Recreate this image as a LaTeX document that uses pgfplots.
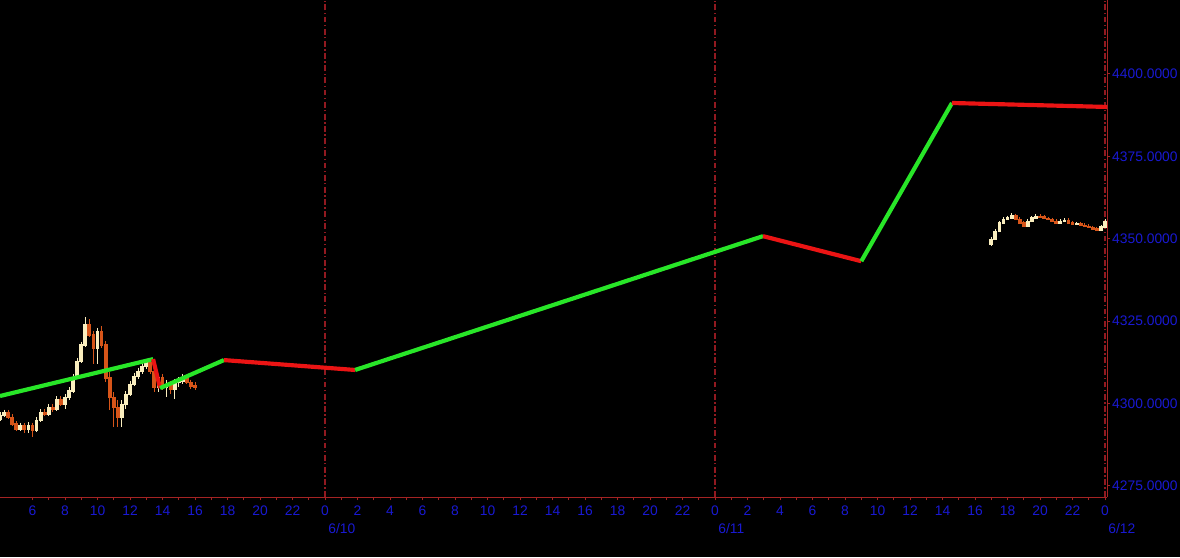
\documentclass[border=0pt]{standalone}
\usepackage{pgfplots}
\pgfplotsset{compat=1.18}
\usepackage{pgfplotstable}
\usepackage{fontspec}
\setmainfont{Liberation Sans}

\definecolor{axred}{RGB}{165,35,35}
\definecolor{gridred}{RGB}{145,25,32}
\definecolor{lblue}{RGB}{25,25,210}
\definecolor{upgreen}{RGB}{40,230,40}
\definecolor{dnred}{RGB}{235,20,20}
\definecolor{candleup}{RGB}{250,238,190}
\definecolor{candledn}{RGB}{215,85,25}

% 15 min candles, x = hours since 6/9 0:00
\pgfplotstableread{
t o h l c
4.00 4295.5 4297.3 4294.8 4296.5
4.25 4296.5 4298.2 4295.9 4297.5
5.25 4292.5 4294.2 4291.6 4293.5
5.75 4292.5 4294.4 4291.0 4293.5
6.25 4292.0 4295.8 4291.3 4295.0
6.50 4295.0 4298.3 4294.4 4297.5
7.00 4297.0 4299.9 4296.2 4299.0
7.50 4298.5 4302.3 4297.9 4301.5
8.00 4300.0 4302.8 4298.5 4302.0
8.25 4302.0 4304.9 4301.2 4304.0
8.50 4304.0 4308.9 4303.3 4308.0
8.75 4308.0 4313.9 4307.4 4313.0
9.00 4313.0 4318.8 4312.2 4318.0
9.25 4318.0 4326.2 4317.3 4324.0
10.00 4317.0 4323.0 4312.0 4322.0
11.50 4296.0 4301.0 4293.0 4300.0
11.75 4300.0 4303.8 4298.5 4303.0
12.00 4303.0 4306.9 4302.2 4306.0
12.25 4306.0 4309.3 4305.2 4308.5
12.50 4308.5 4310.9 4307.4 4310.0
12.75 4310.0 4312.3 4309.1 4311.5
13.00 4311.5 4313.6 4310.6 4312.5
13.75 4305.0 4309.0 4303.5 4308.0
14.25 4305.0 4307.2 4302.0 4306.0
14.75 4304.5 4307.4 4301.5 4306.5
15.00 4306.5 4308.0 4305.0 4307.0
15.25 4307.0 4309.0 4306.0 4308.0
65.00 4348.5 4350.6 4347.8 4350.0
65.25 4350.0 4352.9 4349.6 4352.5
65.50 4352.5 4355.4 4352.0 4355.0
65.75 4355.0 4356.5 4354.6 4356.0
66.00 4356.0 4357.0 4355.6 4356.5
66.25 4356.5 4357.8 4356.1 4357.2
67.25 4354.0 4355.9 4353.6 4355.5
67.50 4355.5 4356.9 4355.1 4356.5
67.75 4356.5 4357.5 4356.1 4357.0
69.25 4355.0 4355.9 4354.6 4355.5
69.50 4355.5 4356.2 4355.1 4355.8
70.25 4354.5 4355.2 4354.1 4354.8
71.75 4352.8 4354.2 4352.4 4353.8
72.00 4353.8 4356.0 4353.4 4355.5
}\upcandles

\pgfplotstableread{
t o h l c
4.50 4297.5 4298.1 4295.3 4296.0
4.75 4296.0 4296.8 4293.2 4294.0
5.00 4294.0 4294.7 4291.8 4292.5
5.50 4293.5 4294.1 4291.0 4292.5
6.00 4293.5 4294.2 4290.0 4292.0
6.75 4297.5 4298.4 4296.2 4297.0
7.25 4299.0 4299.8 4297.6 4298.5
7.75 4301.5 4302.2 4299.2 4300.0
9.50 4324.0 4325.6 4320.2 4321.0
9.75 4321.0 4322.0 4312.0 4317.0
10.25 4322.0 4323.5 4317.0 4318.0
10.50 4318.0 4319.0 4306.5 4308.0
10.75 4308.0 4309.5 4298.0 4302.0
11.00 4302.0 4303.5 4293.0 4299.0
11.25 4299.0 4301.0 4293.0 4296.0
13.25 4312.5 4313.5 4309.0 4310.0
13.50 4310.0 4311.0 4303.5 4305.0
14.00 4308.0 4309.0 4304.0 4305.0
14.50 4306.0 4307.0 4303.0 4304.5
15.50 4308.0 4308.7 4305.8 4306.5
15.75 4306.5 4307.3 4304.5 4305.5
16.00 4305.5 4306.4 4304.2 4305.0
66.50 4357.2 4357.6 4355.6 4356.0
66.75 4356.0 4356.5 4354.6 4355.0
67.00 4355.0 4355.4 4353.5 4354.0
68.00 4357.0 4357.4 4356.4 4356.8
68.25 4356.8 4357.2 4355.9 4356.3
68.50 4356.3 4356.7 4355.6 4356.0
68.75 4356.0 4356.4 4355.1 4355.5
69.00 4355.5 4355.9 4354.6 4355.0
69.75 4355.8 4356.2 4354.6 4355.0
70.00 4355.0 4355.4 4354.1 4354.5
70.50 4354.8 4355.2 4353.9 4354.3
70.75 4354.3 4354.7 4353.6 4354.0
71.00 4354.0 4354.4 4353.2 4353.6
71.25 4353.6 4354.0 4352.8 4353.2
71.50 4353.2 4353.6 4352.4 4352.8
}\dncandles

\begin{document}
\begin{tikzpicture}
\fill[black] (0,-36pt) rectangle (708pt,298.2pt);
\begin{axis}[
  at={(0,0)}, anchor=south west,
  scale only axis, width=664.2pt, height=298.2pt,
  xmin=4, xmax=72.12, ymin=4271.66, ymax=4422.45,
  axis x line*=bottom, axis y line*=right,
  axis line style={draw=axred, line width=0.6pt, -},
  tick align=outside,
  major tick length=2pt, minor tick length=2pt,
  every tick/.style={draw=axred, line width=0.6pt},
  xtick={6,8,...,72},
  xticklabels={6,8,10,12,14,16,18,20,22,0,2,4,6,8,10,12,14,16,18,20,22,0,2,4,6,8,10,12,14,16,18,20,22,0},
  minor x tick num=1,
  ytick={4275,4300,...,4400},
  scaled y ticks=false,
  yticklabel style={xshift=-2.4pt, /pgf/number format/.cd, fixed, fixed zerofill, precision=4, 1000 sep={}},
  /pgf/number format/assume math mode=true,
  tick label style={font=\fontsize{8.3}{10}\selectfont, text=lblue},
  extra x ticks={24,48,72},
  extra x tick labels={6/10,6/11,6/12},
  extra x tick style={grid=major,
    major grid style={draw=gridred, line width=0.7pt, dash pattern=on 3.5pt off 1.5pt on 0.8pt off 1.5pt},
    major tick length=0pt,
    tick label style={anchor=north west, yshift=-12.5pt, xshift=-1.5pt}},
]
% wicks
\addplot[draw=none, mark=none, error bars/.cd, y dir=minus, y explicit, error mark=none,
  error bar style={draw=candleup, line width=0.6pt}]
  table[x=t, y=h, y error minus expr=\thisrow{h}-\thisrow{l}] {\upcandles};
\addplot[draw=none, mark=none, error bars/.cd, y dir=minus, y explicit, error mark=none,
  error bar style={draw=candledn, line width=0.6pt}]
  table[x=t, y=h, y error minus expr=\thisrow{h}-\thisrow{l}] {\dncandles};
% bodies
\addplot[draw=none, mark=none, error bars/.cd, y dir=minus, y explicit, error mark=none,
  error bar style={draw=candleup, line width=2.3pt}]
  table[x=t, y=c, y error minus expr=\thisrow{c}-\thisrow{o}+0.4] {\upcandles};
\addplot[draw=none, mark=none, error bars/.cd, y dir=minus, y explicit, error mark=none,
  error bar style={draw=candledn, line width=2.3pt}]
  table[x=t, y=o, y error minus expr=\thisrow{o}-\thisrow{c}+0.4] {\dncandles};
% trend zigzag
\addplot[upgreen, line width=2.5pt] coordinates {(4,4302.3)(13.42,4313.5)};
\addplot[dnred, line width=2.5pt] coordinates {(13.42,4313.5)(13.85,4304.7)};
\addplot[upgreen, line width=2.5pt] coordinates {(13.85,4304.7)(17.78,4313.2)};
\addplot[dnred, line width=2.5pt] coordinates {(17.78,4313.2)(25.85,4310.2)};
\addplot[upgreen, line width=2.5pt] coordinates {(25.85,4310.2)(50.95,4350.8)};
\addplot[dnred, line width=2.5pt] coordinates {(50.95,4350.8)(57.0,4343.2)};
\addplot[upgreen, line width=2.5pt] coordinates {(57.0,4343.2)(62.58,4391.2)};
\addplot[dnred, line width=2.5pt] coordinates {(62.58,4391.2)(72.12,4390.0)};
\end{axis}
\pgfresetboundingbox
\path[use as bounding box] (0,-36pt) rectangle (708pt,298.2pt);
\end{tikzpicture}
\end{document}
